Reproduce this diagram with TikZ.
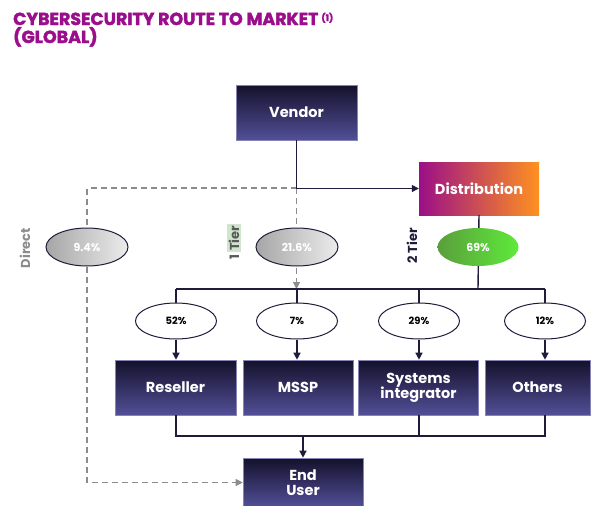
\documentclass[tikz,border=0pt]{standalone}
\usepackage{fontspec}
\setmainfont{Poppins}
\newfontfamily\titlefont{Poppins}[UprightFont=*, BoldFont=*-Bold, BoldFeatures={FakeBold=2.2}]
\usetikzlibrary{shapes.geometric,arrows.meta}
\definecolor{titlepurple}{HTML}{9A0E8C}
\definecolor{navytop}{HTML}{14112B}
\definecolor{navybot}{HTML}{524F98}
\definecolor{distl}{HTML}{9B0F87}
\definecolor{distr}{HTML}{FF9120}
\definecolor{greenl}{HTML}{5A9E3C}
\definecolor{greenr}{HTML}{5EEA3A}
\definecolor{linecol}{HTML}{1E1C3A}
\definecolor{dashcol}{HTML}{8C8C8C}
\definecolor{tierbg}{HTML}{CFE6CC}
\tikzset{
  navybox/.style={rectangle, top color=navytop, bottom color=navybot, draw=navybot!70!white, line width=0.6pt,
    text=white, font=\fontsize{14.5}{15.5}\selectfont\bfseries, align=center, inner sep=0pt},
  pctell/.style={ellipse, draw=linecol, line width=1pt, fill=white, minimum width=81pt, minimum height=36pt,
    inner sep=0pt, font=\fontsize{10}{12}\selectfont\bfseries, text=black},
  grayell/.style={ellipse, draw=linecol, line width=1pt, left color=gray!70, right color=gray!15, minimum width=82pt,
    minimum height=38pt, inner sep=0pt, font=\fontsize{11}{13}\selectfont\bfseries, text=white},
  conn/.style={draw=linecol, line width=1.4pt},
  dashconn/.style={draw=dashcol, line width=1.2pt, dash pattern=on 6pt off 4pt},
  tip/.style={-{Triangle[length=7pt,width=7pt]}},
  sidelabel/.style={rotate=90, font=\fontsize{13}{15}\selectfont\bfseries, inner sep=0pt}
}
\begin{document}
\begin{tikzpicture}[x=1pt,y=-1pt]
\useasboundingbox (0,0) rectangle (592,506);
% title
\node[anchor=base west, inner sep=0pt, text=titlepurple, font=\titlefont\fontsize{17.4}{18}\selectfont\bfseries] (title1) at (13,25)
  {CYBERSECURITY ROUTE TO MARKET\,\raisebox{4pt}{\fontsize{9}{10}\selectfont (1)}};
\node[anchor=base west, inner sep=0pt, text=titlepurple, font=\titlefont\fontsize{17.4}{18}\selectfont\bfseries] (title2) at (13,43)
  {(GLOBAL)};

% coordinates
\coordinate (junc) at (296.5,188);
\coordinate (dcorner) at (87,188);
\coordinate (bus1) at (176,289);
\coordinate (bus4) at (545,289);
\coordinate (bot1) at (176,436);
\coordinate (bot4) at (545,436);
\coordinate (botmid) at (303,436);

% boxes
\node[navybox, minimum width=121pt, minimum height=55pt] (vendor) at (296.5,112.5) {Vendor};
\node[rectangle, left color=distl, right color=distr, minimum width=120pt, minimum height=53pt, inner sep=0pt,
  text=white, font=\fontsize{14.5}{15.5}\selectfont\bfseries] (dist) at (479,188.5) {Distribution};
\node[navybox, minimum width=121pt, minimum height=55pt] (reseller) at (175.5,387.5) {Reseller};
\node[navybox, minimum width=110pt, minimum height=55pt] (mssp) at (298,387.5) {MSSP};
\node[navybox, minimum width=120pt, minimum height=55pt] (si) at (418.5,387.5) {Systems\\[-0.5pt]integrator};
\node[navybox, minimum width=105pt, minimum height=55pt] (others) at (537.5,387.5) {Others};
\node[navybox, minimum width=120pt, minimum height=49pt] (enduser) at (303,482.5) {End\\[-0.5pt]User};

% dashed connectors (behind ellipses)
\draw[dashconn] (junc) -- (dcorner) -- (87,247);
\draw[dashconn, tip] (87,247) |- (enduser.west);
\draw[dashconn, tip] (junc) -- (296.5,289);

% vendor to distribution
\draw[conn, tip] (vendor.south) |- (dist.west);

% distribution to 69% and bus
\draw[conn] (dist.south) -- (478,289);
\draw[conn] (bus1) -- (bus4);

% ellipses
\node[grayell] (direct) at (87,247) {9.4\%};
\node[grayell] (tier1) at (297,247) {21.6\%};
\node[ellipse, draw=none, left color=greenl, right color=greenr, minimum width=81pt, minimum height=38pt, inner sep=0pt,
  font=\fontsize{11}{13}\selectfont\bfseries, text=white] (tier2) at (478,247) {69\%};

\node[pctell] (p1) at (176,321) {52\%};
\node[pctell] (p2) at (297,321) {7\%};
\node[pctell] (p3) at (419,321) {29\%};
\node[pctell] (p4) at (545,321) {12\%};

\foreach \p in {p1,p2,p3,p4} {
  \draw[conn] (\p.north |- bus1) -- (\p.north);
  \draw[conn, tip] (\p.south) -- (\p.south |- reseller.north);
}

% bottom collection
\draw[conn] (reseller.south -| bot1) -- (bot1) -- (bot4) -- (bot4 |- others.south);
\draw[conn] (si.south -| 419,0) -- (419,436);
\draw[conn, tip] (botmid) -- (enduser.north);

% side labels
\node[sidelabel, text=dashcol] (ldirect) at (25,248) {Direct};
\node[sidelabel, text=gray!70!black] (ltier1) at (234,242) {1 {\setlength{\fboxsep}{1.5pt}\colorbox{tierbg}{Tier}}};
\node[sidelabel, text=linecol] (ltier2) at (412,246) {2 Tier};
\end{tikzpicture}
\end{document}
